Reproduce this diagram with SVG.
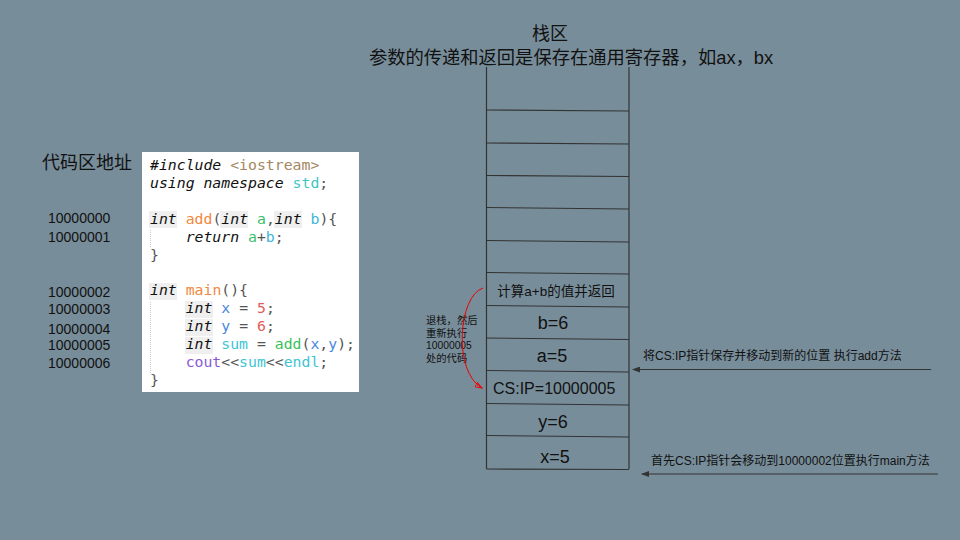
<svg xmlns="http://www.w3.org/2000/svg" width="960" height="540" viewBox="0 0 960 540">
<defs>
<style>
.cjk{font-family:"Liberation Sans","Noto Sans CJK SC",sans-serif;fill:#111}
.code{font-family:"DejaVu Sans Mono",monospace;font-size:14.8px;fill:#555;white-space:pre}
.kw{font-style:italic;fill:#111}
.str{fill:#a4865f}
.std{fill:#3ec6c4}
.fn{fill:#f0883e}
.pa{fill:#3bbf6e}
.pb{fill:#42b6d8}
.var{fill:#4a86e0}
.num{fill:#e25c5c}
.tl{fill:#3dc4d4}
.call{fill:#3bbf5c}
.pur{fill:#8a5ad6}
.hl{fill:#efefef}
.cell{stroke:#333;stroke-width:1.2;fill:none}
.conn{stroke:#333;stroke-width:1;fill:none}
.addr{font-family:"Liberation Sans",sans-serif;font-size:14px;fill:#111}
</style>
<marker id="ah" markerWidth="8" markerHeight="6" refX="7" refY="3" orient="auto" markerUnits="userSpaceOnUse">
<path d="M0,0 L8,3 L0,6 z" fill="#333"/>
</marker>
<marker id="ahr" markerWidth="8" markerHeight="6" refX="7" refY="3" orient="auto" markerUnits="userSpaceOnUse">
<path d="M0,0.5 L7,3 L0,5.5 z" fill="none" stroke="#e00" stroke-width="1"/>
</marker>
</defs>
<rect width="960" height="540" fill="#788d9a"/>

<g id="title">
<text class="cjk" x="550" y="40" font-size="18" text-anchor="middle">栈区</text>
<text class="cjk" x="571" y="64" font-size="18.3" text-anchor="middle">参数的传递和返回是保存在通用寄存器，如ax，bx</text>
</g>

<g id="code-label">
<text class="cjk" x="42" y="169" font-size="18">代码区地址</text>
</g>

<g id="addresses">
<text class="addr" x="48" y="223">10000000</text>
<text class="addr" x="48" y="242">10000001</text>
<text class="addr" x="48" y="297">10000002</text>
<text class="addr" x="48" y="314">10000003</text>
<text class="addr" x="48" y="334">10000004</text>
<text class="addr" x="48" y="350">10000005</text>
<text class="addr" x="48" y="368">10000006</text>
</g>

<g id="code-box">
<rect x="142" y="152" width="217" height="240" fill="#fff"/>
<rect class="hl" x="149" y="211" width="28" height="17"/>
<rect class="hl" x="220" y="211" width="28" height="17"/>
<rect class="hl" x="274" y="211" width="28" height="17"/>
<rect class="hl" x="149" y="283" width="28" height="17"/>
<rect class="hl" x="185" y="301" width="28" height="17"/>
<rect class="hl" x="185" y="319" width="28" height="17"/>
<rect class="hl" x="185" y="337" width="28" height="17"/>
<line x1="150.5" y1="230" x2="150.5" y2="248" stroke="#ccc" stroke-dasharray="1,1"/>
<line x1="150.5" y1="302" x2="150.5" y2="373" stroke="#ccc" stroke-dasharray="1,1"/>
<text class="code" xml:space="preserve" x="150" y="170"><tspan class="kw">#include</tspan> <tspan class="str">&lt;iostream&gt;</tspan></text>
<text class="code" xml:space="preserve" x="150" y="188"><tspan class="kw">using namespace</tspan> <tspan class="std">std</tspan>;</text>
<text class="code" xml:space="preserve" x="150" y="223.8"><tspan class="kw">int</tspan> <tspan class="fn">add</tspan>(<tspan class="kw">int</tspan> <tspan class="pa">a</tspan>,<tspan class="kw">int</tspan> <tspan class="pb">b</tspan>){</text>
<text class="code" xml:space="preserve" x="150" y="241.7">    <tspan class="kw">return</tspan> <tspan class="pa">a</tspan>+<tspan class="pb">b</tspan>;</text>
<text class="code" xml:space="preserve" x="150" y="259.6">}</text>
<text class="code" xml:space="preserve" x="150" y="295.4"><tspan class="kw">int</tspan> <tspan class="fn">main</tspan>(){</text>
<text class="code" xml:space="preserve" x="150" y="313.3">    <tspan class="kw">int</tspan> <tspan class="var">x</tspan> = <tspan class="num">5</tspan>;</text>
<text class="code" xml:space="preserve" x="150" y="331.2">    <tspan class="kw">int</tspan> <tspan class="var">y</tspan> = <tspan class="num">6</tspan>;</text>
<text class="code" xml:space="preserve" x="150" y="349.1">    <tspan class="kw">int</tspan> <tspan class="tl">sum</tspan> = <tspan class="call">add</tspan>(<tspan class="var">x</tspan>,<tspan class="var">y</tspan>);</text>
<text class="code" xml:space="preserve" x="150" y="367">    <tspan class="pur">cout</tspan>&lt;&lt;<tspan class="tl">sum</tspan>&lt;&lt;<tspan class="tl">endl</tspan>;</text>
<text class="code" xml:space="preserve" x="150" y="384.9">}</text>
</g>

<g id="stack">
<line class="cell" x1="486.5" y1="67" x2="486.5" y2="469"/>
<line class="cell" x1="629" y1="67" x2="629" y2="469"/>
<g id="slot-empty1"><line class="cell" x1="486.5" y1="110" x2="629" y2="111"/></g>
<g id="slot-empty2"><line class="cell" x1="486.5" y1="143" x2="629" y2="144"/></g>
<g id="slot-empty3"><line class="cell" x1="486.5" y1="175.5" x2="629" y2="176.5"/></g>
<g id="slot-empty4"><line class="cell" x1="486.5" y1="207.5" x2="629" y2="209"/></g>
<g id="slot-empty5"><line class="cell" x1="486.5" y1="240.5" x2="629" y2="242"/></g>
<g id="slot-empty6"><line class="cell" x1="486.5" y1="272.5" x2="629" y2="274"/></g>
<g id="slot-calc"><text class="cjk" x="556" y="296" font-size="13.5" text-anchor="middle">计算a+b的值并返回</text>
<line class="cell" x1="486.5" y1="305.5" x2="629" y2="307"/></g>
<g id="slot-b"><text class="cjk" x="553" y="329" font-size="18" text-anchor="middle">b=6</text>
<line class="cell" x1="486.5" y1="338" x2="629" y2="339.5"/></g>
<g id="slot-a"><text class="cjk" x="552" y="362" font-size="18" text-anchor="middle">a=5</text>
<line class="cell" x1="486.5" y1="370.5" x2="629" y2="372"/></g>
<g id="slot-csip"><text class="cjk" x="493" y="394" font-size="16">CS:IP=10000005</text>
<line class="cell" x1="486.5" y1="403.5" x2="629" y2="405"/></g>
<g id="slot-y"><text class="cjk" x="553" y="428" font-size="18" text-anchor="middle">y=6</text>
<line class="cell" x1="486.5" y1="435.5" x2="629" y2="437"/></g>
<g id="slot-x"><text class="cjk" x="555" y="463" font-size="18" text-anchor="middle">x=5</text>
<line class="cell" x1="486.5" y1="469" x2="629" y2="469.5"/></g>
</g>

<g id="note-return">
<text class="cjk" font-size="10.3"><tspan x="426" y="324">退栈，然后</tspan><tspan x="426" y="337">重新执行</tspan><tspan x="426" y="349">10000005</tspan><tspan x="426" y="362">处的代码</tspan></text>
</g>
<g id="note-add">
<text class="cjk" x="643" y="360" font-size="12">将CS:IP指针保存并移动到新的位置 执行add方法</text>
</g>
<g id="note-main">
<text class="cjk" x="651" y="465" font-size="12">首先CS:IP指针会移动到10000002位置执行main方法</text>
</g>

<g id="connectors">
<path d="M483,288 C458,296 453,372 482,388" fill="none" stroke="#e00" stroke-width="1" marker-end="url(#ahr)"/>
<line class="conn" x1="931" y1="369.5" x2="633" y2="369.5" marker-end="url(#ah)"/>
<line class="conn" x1="938" y1="474" x2="642" y2="474" marker-end="url(#ah)"/>
</g>
</svg>
